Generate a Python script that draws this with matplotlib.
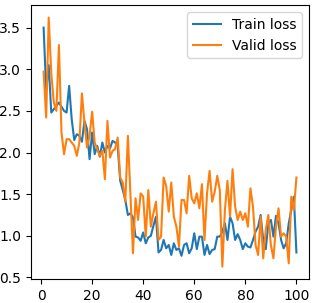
import matplotlib
matplotlib.use("Agg")
import matplotlib.pyplot as plt
import numpy as np

epochs = list(range(1, 101))

train_loss = [
    3.50, 2.75, 3.05, 2.48, 2.52, 2.56, 2.60, 2.55, 2.50, 2.48,
    2.80, 2.40, 2.15, 2.22, 2.20, 2.13, 2.38, 2.28, 1.92, 2.24,
    1.98, 2.08, 1.95, 2.12, 2.00, 2.08, 2.05, 2.14, 2.12, 2.08,
    1.66, 1.55, 1.43, 1.25, 1.27, 1.22, 0.99, 0.98, 0.94, 1.04,
    0.91, 0.98, 1.00, 1.12, 1.23, 0.80, 0.83, 0.95, 0.85, 0.89,
    0.77, 0.91, 0.83, 0.85, 0.76, 0.89, 0.91, 0.79, 0.85, 1.03,
    0.84, 0.99, 0.99, 0.77, 0.89, 0.78, 0.83, 0.84, 0.99, 0.99,
    1.05, 1.15, 0.95, 1.23, 1.15, 0.95, 1.02, 0.95, 0.84, 0.91,
    0.87, 0.86, 0.95, 1.05, 1.11, 1.25, 0.95, 0.84, 1.15, 1.19,
    0.99, 1.24, 1.15, 0.95, 0.85, 0.91, 1.15, 1.31, 1.47, 0.80,
]

valid_loss = [
    2.97, 2.42, 3.62, 2.95, 2.60, 2.50, 3.29, 2.24, 1.98, 2.16,
    2.16, 2.12, 2.08, 1.96, 2.12, 2.71, 2.36, 2.06, 2.20, 2.49,
    2.12, 2.04, 1.96, 2.02, 1.68, 2.38, 1.94, 2.02, 2.04, 2.18,
    1.70, 1.64, 1.41, 2.20, 1.50, 0.79, 1.45, 1.19, 1.51, 1.47,
    0.99, 1.55, 1.11, 1.27, 1.41, 0.95, 0.99, 1.70, 1.60, 1.29,
    1.64, 1.23, 1.11, 0.87, 1.43, 1.43, 1.27, 1.72, 1.45, 1.39,
    1.51, 1.33, 1.62, 0.95, 1.51, 1.78, 1.41, 1.53, 1.72, 1.55,
    0.63, 1.31, 1.66, 1.23, 1.80, 1.35, 1.19, 1.29, 1.19, 1.27,
    1.11, 1.57, 1.35, 0.89, 0.77, 1.23, 0.73, 1.07, 1.25, 0.89,
    0.73, 1.11, 1.33, 0.99, 1.03, 0.99, 0.67, 1.47, 1.31, 1.70,
]

fig = plt.figure(figsize=(3.16, 3.03), dpi=100)
ax = fig.add_axes([0.098, 0.079, 0.88, 0.904])
ax.plot(epochs, train_loss, label="Train loss")
ax.plot(epochs, valid_loss, label="Valid loss")
ax.legend(loc="upper right")
fig.savefig("out.png", dpi=100)
